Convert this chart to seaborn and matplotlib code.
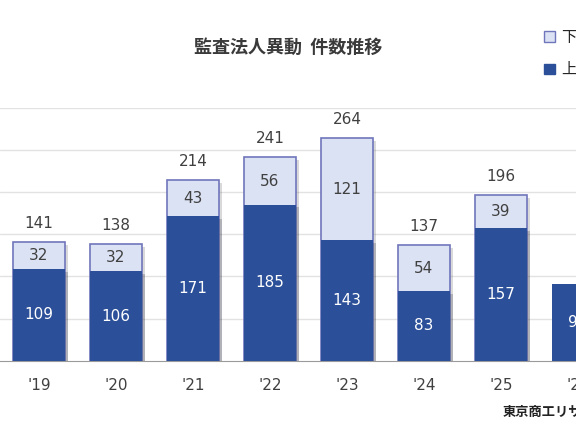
import numpy as np
import pandas as pd
import matplotlib
matplotlib.use('Agg')
import matplotlib.pyplot as plt
import matplotlib.patheffects as pe
from matplotlib.patches import Patch
import seaborn as sns

# data
years = ["'19", "'20", "'21", "'22", "'23", "'24", "'25", "'26"]
kami = [109, 106, 171, 185, 143, 83, 157, 91]          # 上期
shimo = [32, 32, 43, 56, 121, 54, 39, np.nan]           # 下期 ('26 not yet)

df = pd.DataFrame({'year': years, 'kami': kami, 'shimo': shimo})
df['total'] = df['kami'] + df['shimo']

dark = '#2b4f98'
light = '#dbe2f4'
edge = '#7076bb'
txt = '#404040'

sns.set_style('white')
plt.rcParams['font.family'] = ['DejaVu Sans', 'Noto Sans CJK JP']

fig = plt.figure(figsize=(5.76, 4.30), dpi=100)
# chart is cropped on both sides in the reference
ax = fig.add_axes([0.0, 0.1605, 1.0703, 0.5895])

shadow = [pe.SimplePatchShadow(offset=(2, -2), alpha=0.2), pe.Normal()]

sns.barplot(data=df, x='year', y='total', color=light, width=0.68,
            edgecolor=edge, linewidth=1.2, saturation=1, ax=ax, zorder=2)
sns.barplot(data=df, x='year', y='kami', color=dark, width=0.68,
            edgecolor=dark, linewidth=0, saturation=1, ax=ax, zorder=3)
for c in ax.containers[:2]:
    for p in c:
        p.set_path_effects(shadow)

for i, row in df.iterrows():
    ax.text(i, row['kami'] / 2, f"{int(row['kami'])}", ha='center', va='center',
            color='white', fontsize=11, zorder=5)
    if not np.isnan(row['shimo']):
        ax.text(i, row['kami'] + row['shimo'] / 2, f"{int(row['shimo'])}",
                ha='center', va='center', color=txt, fontsize=11, zorder=5)
        ax.annotate(f"{int(row['total'])}", (i, row['total']), xytext=(0, 13.5),
                    textcoords='offset points', ha='center', va='center',
                    color=txt, fontsize=11)

ax.set_xlim(-0.506, 7.5)
ax.set_ylim(0, 300)
ax.set_yticks(range(50, 301, 50))
ax.set_yticklabels([])
ax.yaxis.grid(True, color='#e2e2e2', linewidth=1)
ax.set_axisbelow(True)
ax.set_xlabel('')
ax.set_ylabel('')
for s in ['left', 'right', 'top']:
    ax.spines[s].set_visible(False)
ax.spines['bottom'].set_color('#9a9a9a')
ax.tick_params(axis='x', length=0, pad=12, labelsize=11, labelcolor=txt)
ax.tick_params(axis='y', length=0)

fig.text(288 / 576, 1 - 47 / 430, '監査法人異動  件数推移', ha='center', va='center',
         fontsize=13, color='#3a3a3a', weight='bold',
         family=['Noto Sans CJK JP', 'DejaVu Sans'])

handles = [Patch(facecolor=light, edgecolor=edge, linewidth=1),
           Patch(facecolor=dark, edgecolor=dark)]
fig.legend(handles, ['下期', '上期'], loc='upper left',
           bbox_to_anchor=(544 / 576, 1 - 29 / 430), frameon=False,
           handlelength=0.7, handleheight=0.7, handletextpad=0.4,
           labelspacing=1.0, borderpad=0, borderaxespad=0,
           prop={'family': ['Noto Sans CJK JP'], 'size': 11})

fig.text(503 / 576, 1 - 412 / 430, '東京商工リサーチ', ha='left', va='center',
         fontsize=9.5, color='#222222', weight='bold', family=['Noto Sans CJK JP'])

fig.savefig('out.png', dpi=100)
